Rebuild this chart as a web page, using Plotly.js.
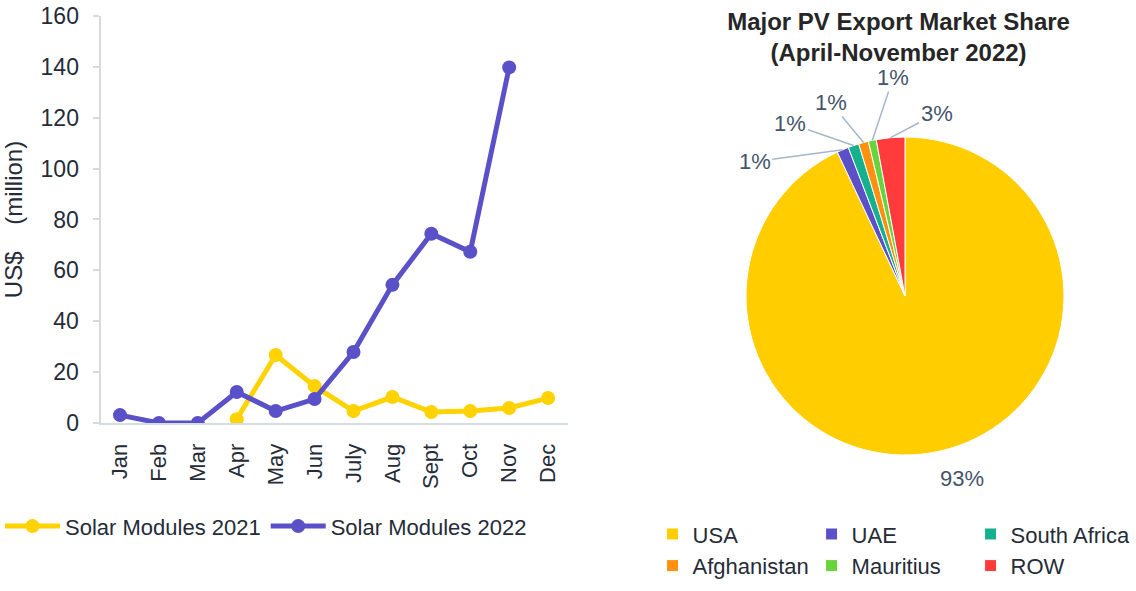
<!DOCTYPE html>
<html>
<head>
<meta charset="utf-8">
<script src="https://cdn.plot.ly/plotly-3.0.1.min.js"></script>
<style>html,body{margin:0;padding:0;background:#fff;}#chart{width:1136px;height:591px;}</style>
</head>
<body>
<div id="chart"></div>
<script>
const months = ["Jan","Feb","Mar","Apr","May","Jun","July","Aug","Sept","Oct","Nov","Dec"];
const modules2021 = [null,null,null,1.5,26.7,14.5,4.7,10.2,4.3,4.7,5.9,9.8];
const modules2022 = [3.1,0,0,12.2,4.7,9.4,27.9,54.3,74.4,67.3,139.8,null];
const countries = ["USA","UAE","South Africa","Afghanistan","Mauritius","ROW"];
const shares = [93.0,1.2,1.1,1.0,0.8,2.9];
const pieColors = ["#FFCD00","#5B50C8","#15B08E","#FF9010","#66D43A","#FF3B3B"];

const W = 1136, H = 591;
const textColor = "#252c38";
const labelColor = "#44546A";
const fontFam = "Liberation Sans, Arial, sans-serif";

// pie geometry (layout)
const pieCx = 905, pieCy = 296, pieR = 159;
// label placement (px) for each slice: [dx, dy, showLeaderLine]
const labelOffsets = [[22,27,false], [-88,12,true], [-63,-22,true], [-33,-40,true], [21,-63,true], [46,-24,true]];

const total = shares.reduce((a,b)=>a+b,0);
const annotations = [];
let cum = 0;
shares.forEach((v,i)=>{
  const mid = (cum + v/2)/total * 2*Math.PI;
  cum += v;
  const off = labelOffsets[i];
  const px = pieCx + pieR*Math.sin(mid);
  const py = pieCy - pieR*Math.cos(mid);
  const a = {
    xref:"paper", yref:"paper", x:px/W, y:1-py/H,
    text: Math.round(v/total*100)+"%",
    font:{size:22, color:labelColor, family:fontFam}
  };
  if(off[2]){
    Object.assign(a, {showarrow:true, arrowhead:0, arrowwidth:1.5, arrowcolor:"#a6b8c8",
                      ax:off[0], ay:off[1], standoff:0});
  } else {
    Object.assign(a, {showarrow:false, xanchor:"center", yanchor:"middle", xshift:off[0], yshift:-off[1]});
  }
  annotations.push(a);
});

const traces = [
  {type:"scatter", mode:"lines+markers", name:"Solar Modules 2021", x:months, y:modules2021,
   line:{color:"#FFD200", width:5}, marker:{color:"#FFD200", size:14}, legend:"legend"},
  {type:"scatter", mode:"lines+markers", name:"Solar Modules 2022", x:months, y:modules2022,
   line:{color:"#5A50C8", width:5}, marker:{color:"#5A50C8", size:14}, legend:"legend"},
  {type:"pie", labels:countries, values:shares, sort:false, direction:"clockwise", rotation:0,
   marker:{colors:pieColors, line:{color:"#ffffff", width:1}},
   textinfo:"none",
   domain:{x:[(pieCx-pieR)/W,(pieCx+pieR)/W], y:[1-(pieCy+pieR)/H,1-(pieCy-pieR)/H]},
   automargin:false, legend:"legend2", showlegend:true}
];

const layout = {
  width:W, height:H,
  margin:{l:0,r:0,t:0,b:0,autoexpand:false},
  paper_bgcolor:"#ffffff", plot_bgcolor:"#ffffff",
  font:{family:fontFam, color:textColor, size:22},
  title:{text:"<b>Major PV Export Market Share</b><br><b>(April-November 2022)</b>",
         x:0.791, xanchor:"center", y:0.949, yanchor:"top", yref:"container",
         font:{size:24, color:"#262626", family:fontFam}},
  annotations:annotations,
  xaxis:{domain:[0.0885,0.4996], type:"category", range:[-0.5,11.5], showline:true, linecolor:"#d6dce5", linewidth:2,
         ticks:"", tickangle:-90, showgrid:false, zeroline:false,
         tickfont:{size:22, color:textColor}, ticklabelstandoff:10},
  yaxis:{domain:[0.2843,0.9729], range:[0,160], dtick:20, showline:true, linecolor:"#d9d9d9", linewidth:2,
         ticks:"outside", ticklen:6, tickwidth:2, tickcolor:"#d9d9d9", showgrid:false, zeroline:false,
         tickfont:{size:23, color:textColor}, ticklabelstandoff:9,
         title:{text:"US$\u00a0\u00a0\u00a0\u00a0(million)", font:{size:24, color:textColor}, standoff:14}},
  legend:{orientation:"h", x:0, xanchor:"left", y:0.145, yanchor:"top", bgcolor:"rgba(0,0,0,0)",
          font:{size:22, color:textColor}, itemwidth:55},
  legend2:{orientation:"h", x:1.0005, xanchor:"right", y:0.1435, yanchor:"top", bgcolor:"rgba(0,0,0,0)",
           borderwidth:7, bordercolor:"rgba(0,0,0,0)",
           font:{size:22, color:textColor}, entrywidth:114, entrywidthmode:"pixels"},
  showlegend:true
};

Plotly.newPlot("chart", traces, layout, {displayModeBar:false, staticPlot:true});
</script>
</body>
</html>
